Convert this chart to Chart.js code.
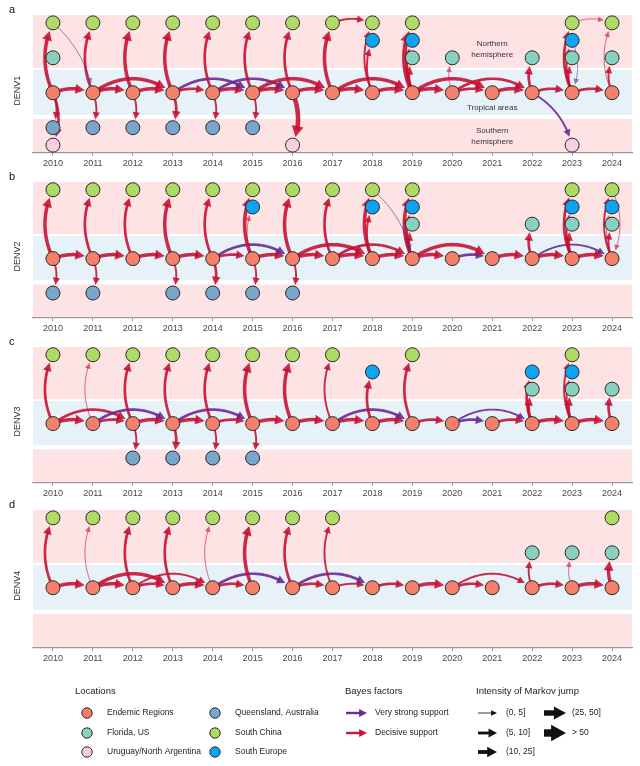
<!DOCTYPE html>
<html>
<head>
<meta charset="utf-8">
<script src="https://cdn.jsdelivr.net/npm/chart.js@4.4.1/dist/chart.umd.min.js"></script>
<style>
body{margin:0;background:#fff;width:640px;height:766px;position:relative;overflow:hidden;font-family:"Liberation Sans",Arial,sans-serif}
canvas{position:absolute;left:0}
</style>
</head>
<body>
<canvas id="pa" width="640" height="170" style="top:0px"></canvas>
<canvas id="pb" width="640" height="170" style="top:165px"></canvas>
<canvas id="pc" width="640" height="170" style="top:330px"></canvas>
<canvas id="pd" width="640" height="170" style="top:495px"></canvas>
<canvas id="legend" width="640" height="96" style="top:670px"></canvas>
<script>
// ---- data ----
const YEARS = [2010,2011,2012,2013,2014,2015,2016,2017,2018,2019,2020,2021,2022,2023,2024];
const LOC_KEYS = ['E','F','U','Q','C','S'];
const LOC_NAME = {E:'Endemic Regions', F:'Florida, US', U:'Uruguay/North Argentina',
                  Q:'Queensland, Australia', C:'South China', S:'South Europe'};
const BAYES = {V:'Very strong support', D:'Decisive support'};
const INTENSITY = ['(0, 5]','(5, 10]','(10, 25]','(25, 50]','> 50'];

// sampled locations per year
const DENV1_NODES = [
  ['E', YEARS],
  ['C', [2010,2011,2012,2013,2014,2015,2016,2017,2018,2019,2023,2024]],
  ['S', [2018,2019,2023]],
  ['F', [2010,2019,2020,2022,2023,2024]],
  ['Q', [2010,2011,2012,2013,2014,2015]],
  ['U', [2010,2016,2023]]
];
const DENV2_NODES = [
  ['E', YEARS],
  ['C', [2010,2011,2012,2013,2014,2015,2016,2017,2018,2019,2023,2024]],
  ['S', [2015,2018,2019,2023,2024]],
  ['F', [2019,2022,2023,2024]],
  ['Q', [2010,2011,2013,2014,2015,2016]]
];
const DENV3_NODES = [
  ['E', YEARS],
  ['C', [2010,2011,2012,2013,2014,2015,2016,2017,2019,2023]],
  ['S', [2018,2022,2023]],
  ['F', [2022,2023,2024]],
  ['Q', [2012,2013,2014,2015]]
];
const DENV4_NODES = [
  ['E', YEARS],
  ['C', [2010,2011,2012,2013,2014,2015,2016,2017,2024]],
  ['F', [2022,2023,2024]]
];

// jumps: [from, fromYear, to, toYear, bayes factor, intensity class 1..5]
const DENV1_JUMPS = [
  ['E',2010,'E',2011,'D',4],['E',2011,'E',2012,'D',4],['E',2012,'E',2013,'D',4],['E',2013,'E',2014,'D',3],
  ['E',2014,'E',2015,'D',4],['E',2015,'E',2016,'D',4],['E',2016,'E',2017,'D',4],['E',2017,'E',2018,'D',4],
  ['E',2018,'E',2019,'D',4],['E',2019,'E',2020,'D',4],['E',2020,'E',2021,'D',3],['E',2021,'E',2022,'D',4],
  ['E',2022,'E',2023,'D',3],['E',2023,'E',2024,'D',3],
  ['E',2011,'E',2013,'D',4],['E',2013,'E',2015,'V',3],['E',2014,'E',2016,'V',3],['E',2015,'E',2017,'D',4],
  ['E',2017,'E',2019,'D',4],['E',2019,'E',2021,'D',4],['E',2020,'E',2022,'D',3],
  ['E',2010,'C',2010,'D',4],['E',2011,'C',2011,'D',3],['E',2012,'C',2012,'D',4],['E',2013,'C',2013,'D',4],
  ['E',2014,'C',2014,'D',3],['E',2015,'C',2015,'D',3],['E',2016,'C',2016,'D',3],['E',2017,'C',2017,'D',4],
  ['E',2018,'C',2018,'D',2],['E',2018,'S',2018,'D',2],['E',2019,'C',2019,'D',5],['E',2019,'S',2019,'D',3],
  ['E',2019,'F',2019,'D',3],['E',2020,'F',2020,'D',1],['E',2022,'F',2022,'D',3],['E',2023,'C',2023,'D',3],
  ['E',2023,'S',2023,'D',2],['E',2023,'F',2023,'D',2],['E',2024,'C',2024,'D',1],['E',2024,'F',2024,'D',2],
  ['C',2017,'C',2018,'D',2],['C',2023,'C',2024,'D',1],['S',2023,'E',2023,'V',1],['C',2010,'E',2011,'V',1],
  ['E',2010,'Q',2010,'D',2],['E',2011,'Q',2011,'D',2],['E',2012,'Q',2012,'D',2],['E',2013,'Q',2013,'D',3],
  ['E',2014,'Q',2014,'D',2],['E',2015,'Q',2015,'D',2],
  ['E',2010,'U',2010,'D',3],['E',2016,'U',2016,'D',5],['E',2022,'U',2023,'V',2]
];
const DENV2_JUMPS = [
  ['E',2010,'E',2011,'D',4],['E',2011,'E',2012,'D',4],['E',2012,'E',2013,'D',4],['E',2013,'E',2014,'D',4],
  ['E',2014,'E',2015,'D',3],['E',2015,'E',2016,'D',4],['E',2016,'E',2017,'D',4],['E',2017,'E',2018,'D',4],
  ['E',2018,'E',2019,'D',4],['E',2019,'E',2020,'D',4],['E',2020,'E',2021,'V',3],['E',2021,'E',2022,'D',4],
  ['E',2022,'E',2023,'D',4],['E',2023,'E',2024,'D',4],
  ['E',2014,'E',2016,'V',3],['E',2016,'E',2018,'D',4],['E',2017,'E',2019,'D',3],['E',2019,'E',2021,'D',4],
  ['E',2022,'E',2024,'V',2],
  ['E',2010,'C',2010,'D',4],['E',2011,'C',2011,'D',3],['E',2012,'C',2012,'D',3],['E',2013,'C',2013,'D',4],
  ['E',2014,'C',2014,'D',3],['E',2015,'C',2015,'D',4],['E',2016,'C',2016,'D',4],['E',2017,'C',2017,'D',3],
  ['E',2018,'C',2018,'D',4],['E',2019,'C',2019,'D',4],['E',2023,'C',2023,'D',3],['E',2024,'C',2024,'D',2],
  ['E',2015,'S',2015,'D',1],['E',2018,'S',2018,'D',2],['E',2019,'S',2019,'D',3],['E',2023,'S',2023,'D',2],
  ['E',2024,'S',2024,'D',1],
  ['E',2019,'F',2019,'D',3],['E',2022,'F',2022,'D',3],['E',2023,'F',2023,'D',3],['E',2024,'F',2024,'D',2],
  ['C',2018,'E',2019,'V',1],['C',2024,'E',2024,'D',1],['F',2023,'C',2023,'V',1],
  ['E',2010,'Q',2010,'D',2],['E',2011,'Q',2011,'D',2],['E',2013,'Q',2013,'D',2],['E',2014,'Q',2014,'D',3],
  ['E',2015,'Q',2015,'D',2],['E',2016,'Q',2016,'D',2]
];
const DENV3_JUMPS = [
  ['E',2010,'E',2011,'D',4],['E',2011,'E',2012,'D',3],['E',2012,'E',2013,'D',4],['E',2013,'E',2014,'D',4],
  ['E',2014,'E',2015,'D',3],['E',2015,'E',2016,'D',4],['E',2016,'E',2017,'D',4],['E',2017,'E',2018,'D',4],
  ['E',2018,'E',2019,'D',4],['E',2019,'E',2020,'D',3],['E',2020,'E',2021,'V',3],['E',2021,'E',2022,'D',3],
  ['E',2022,'E',2023,'D',4],['E',2023,'E',2024,'D',4],
  ['E',2010,'E',2012,'D',3],['E',2011,'E',2013,'V',3],['E',2013,'E',2015,'V',3],['E',2017,'E',2019,'V',3],
  ['E',2020,'E',2022,'V',2],
  ['E',2010,'C',2010,'D',3],['E',2011,'C',2011,'D',1],['E',2012,'C',2012,'D',3],['E',2013,'C',2013,'D',3],
  ['E',2014,'C',2014,'D',3],['E',2015,'C',2015,'D',4],['E',2016,'C',2016,'D',4],['E',2017,'C',2017,'D',2],
  ['E',2019,'C',2019,'D',3],['E',2023,'C',2023,'D',2],
  ['E',2018,'S',2018,'D',3],['E',2022,'S',2022,'D',3],['E',2023,'S',2023,'D',2],
  ['E',2022,'F',2022,'D',3],['E',2023,'F',2023,'D',3],['E',2024,'F',2024,'D',3],
  ['E',2012,'Q',2012,'D',2],['E',2013,'Q',2013,'D',3],['E',2014,'Q',2014,'D',2],['E',2015,'Q',2015,'D',2]
];
const DENV4_JUMPS = [
  ['E',2010,'E',2011,'D',4],['E',2011,'E',2012,'D',4],['E',2012,'E',2013,'D',3],['E',2013,'E',2014,'D',4],
  ['E',2014,'E',2015,'D',3],['E',2016,'E',2017,'D',3],['E',2017,'E',2018,'D',2],['E',2018,'E',2019,'D',3],
  ['E',2019,'E',2020,'D',4],['E',2020,'E',2021,'D',3],['E',2022,'E',2023,'D',3],['E',2023,'E',2024,'D',4],
  ['E',2011,'E',2013,'D',4],['E',2012,'E',2014,'D',2],['E',2014,'E',2016,'V',3],['E',2016,'E',2018,'V',3],
  ['E',2020,'E',2022,'D',2],
  ['E',2010,'C',2010,'D',3],['E',2011,'C',2011,'D',1],['E',2012,'C',2012,'D',3],['E',2013,'C',2013,'D',3],
  ['E',2014,'C',2014,'D',1],['E',2015,'C',2015,'D',4],['E',2016,'C',2016,'D',3],['E',2017,'C',2017,'D',2],
  ['E',2022,'F',2022,'D',2],['E',2023,'F',2023,'D',1],['E',2024,'F',2024,'D',4]
];

// ---- styling / layout ----
const FONT = '"Liberation Sans", Arial, sans-serif';
Chart.defaults.font.family = FONT;
const ROW = {C:6, S:5, F:4, E:2, Q:0, U:-1};
const LOC_COLOR = {E:'#F47F6B', F:'#88D1C1', U:'#F9CEE3', Q:'#79A7CB', C:'#AEDB63', S:'#0AA4F3'};
const BF_COLOR = {D:'rgba(198,12,48,', V:'rgba(104,36,142,'};
const JUMP_WIDTH = [0, 1, 1.9, 2.7, 3.5, 4.6];
const BANDS = [[6.45, 3.42, '#FDE3E4'], [3.31, 0.74, '#E6F2F8'], [0.5, -1.45, '#FDE3E4']];
const NOTES_A = [['Northern', 2021, 4.79], ['hemisphere', 2021, 4.16], ['Tropical areas', 2021, 1.13],
                 ['Southern', 2021, -0.19], ['hemisphere', 2021, -0.82]];

function drawArrow(ctx, x0, y0, x1, y1, bend, lw, color, rEnd) {
  const dx = x1 - x0, dy = y1 - y0, len = Math.hypot(dx, dy);
  const nx = -dy / len, ny = dx / len;
  const cx = (x0 + x1) / 2 - nx * bend, cy = (y0 + y1) / 2 - ny * bend;
  const pt = t => ({x: (1-t)*(1-t)*x0 + 2*(1-t)*t*cx + t*t*x1,
                    y: (1-t)*(1-t)*y0 + 2*(1-t)*t*cy + t*t*y1});
  let tEnd = 1;
  while (tEnd > 0 && Math.hypot(pt(tEnd).x - x1, pt(tEnd).y - y1) < rEnd) tEnd -= 0.004;
  const tip = pt(tEnd);
  const headL = 4.5 + lw * 1.4, headW = 2 + lw * 0.85;
  let tBase = tEnd, tShaft = tEnd;
  while (tShaft > 0 && Math.hypot(pt(tShaft).x - tip.x, pt(tShaft).y - tip.y) < headL * 0.7) tShaft -= 0.004;
  while (tBase > 0 && Math.hypot(pt(tBase).x - tip.x, pt(tBase).y - tip.y) < headL) tBase -= 0.004;
  const b = pt(tBase);
  const dl = Math.hypot(tip.x - b.x, tip.y - b.y) || 1;
  const ux = (tip.x - b.x) / dl, uy = (tip.y - b.y) / dl;
  ctx.save();
  ctx.strokeStyle = color; ctx.fillStyle = color; ctx.lineWidth = lw;
  ctx.lineCap = 'butt'; ctx.lineJoin = 'round';
  ctx.beginPath();
  ctx.moveTo(x0, y0);
  for (let i = 1; i <= 40; i++) { const p = pt(tShaft * i / 40); ctx.lineTo(p.x, p.y); }
  ctx.stroke();
  const bx = tip.x - ux * headL, by = tip.y - uy * headL;
  ctx.beginPath();
  ctx.moveTo(tip.x, tip.y);
  ctx.lineTo(bx - uy * headW, by + ux * headW);
  ctx.lineTo(bx + uy * headW, by - ux * headW);
  ctx.closePath();
  ctx.fill();
  ctx.restore();
}

function bendFor(p0, p1) {
  const dx = Math.abs(p1.x - p0.x), dy = Math.abs(p1.y - p0.y);
  if (dx < 1) return dy > 60 ? 16 : dy > 45 ? 11 : 7;
  if (dy < 1) return dx > 60 ? 28 : 8;
  return 14;
}

function panel(id, letter, title, nodes, jumps, padTop, notes) {
  const datasets = nodes.map(([k, yrs]) => ({
    label: LOC_NAME[k],
    data: yrs.map(y => ({x: y, y: ROW[k]})),
    backgroundColor: LOC_COLOR[k], borderColor: '#2a2a2a', borderWidth: 1,
    pointRadius: 7, pointHoverRadius: 7
  }));
  const decor = {
    id: 'decor' + id,
    beforeDraw(chart) {
      const {ctx, chartArea: a, scales: {y}} = chart;
      ctx.save();
      BANDS.forEach(([t, b, c]) => {
        const yt = y.getPixelForValue(t), yb = y.getPixelForValue(b);
        ctx.fillStyle = c; ctx.fillRect(a.left, yt, a.right - a.left, yb - yt);
      });
      ctx.restore();
    },
    beforeDatasetsDraw(chart) {
      const {ctx, scales: {x, y}} = chart;
      jumps.forEach(([f, fy, t, ty, bf, cls]) => {
        const p0 = {x: x.getPixelForValue(fy), y: y.getPixelForValue(ROW[f])};
        const p1 = {x: x.getPixelForValue(ty), y: y.getPixelForValue(ROW[t])};
        const alpha = cls === 1 ? 0.6 : 0.88;
        drawArrow(ctx, p0.x, p0.y, p1.x, p1.y, bendFor(p0, p1), JUMP_WIDTH[cls], BF_COLOR[bf] + alpha + ')', 8.5);
      });
    },
    afterDraw(chart) {
      const {ctx, chartArea: a, scales: {x, y}} = chart;
      ctx.save();
      ctx.fillStyle = '#111';
      ctx.font = '11px ' + FONT;
      ctx.textAlign = 'left'; ctx.textBaseline = 'middle';
      ctx.fillText(letter, 9, a.top - 5);
      ctx.translate(18, y.getPixelForValue(ROW.E) - 2);
      ctx.rotate(-Math.PI / 2);
      ctx.textAlign = 'center';
      ctx.fillStyle = '#333';
      ctx.font = '9px ' + FONT;
      ctx.fillText(title, 0, 0);
      ctx.restore();
      if (notes) {
        ctx.save();
        ctx.fillStyle = '#333'; ctx.font = '8px ' + FONT;
        ctx.textAlign = 'center'; ctx.textBaseline = 'middle';
        notes.forEach(([s, nx, ny]) => ctx.fillText(s, x.getPixelForValue(nx), y.getPixelForValue(ny)));
        ctx.restore();
      }
    }
  };
  return new Chart(document.getElementById(id), {
    type: 'scatter',
    data: {datasets},
    options: {
      responsive: false, animation: false,
      layout: {padding: {left: 33, right: 5, top: padTop, bottom: 0}},
      plugins: {legend: {display: false}, tooltip: {enabled: false}},
      scales: {
        x: {
          type: 'linear', min: 2009.5, max: 2024.5,
          afterBuildTicks: s => { s.ticks = YEARS.map(v => ({value: v})); },
          afterFit: s => { s.height = 17; },
          ticks: {callback: v => String(v), color: '#4a4a4a', font: {size: 9}, padding: 2,
                  maxRotation: 0, autoSkip: false},
          grid: {drawOnChartArea: false, drawTicks: true, tickLength: 3, color: '#9a9a9a'},
          border: {display: true, color: '#9a9a9a', width: 1.2}
        },
        y: {display: false, min: -1.45, max: 6.45}
      }
    },
    plugins: [decor]
  });
}

panel('pa', 'a', 'DENV1', DENV1_NODES, DENV1_JUMPS, 15, NOTES_A);
panel('pb', 'b', 'DENV2', DENV2_NODES, DENV2_JUMPS, 17, null);
panel('pc', 'c', 'DENV3', DENV3_NODES, DENV3_JUMPS, 17, null);
panel('pd', 'd', 'DENV4', DENV4_NODES, DENV4_JUMPS, 15, null);

// ---- legend ----
(function () {
  const ctx = document.getElementById('legend').getContext('2d');
  ctx.textBaseline = 'middle';
  ctx.fillStyle = '#222';
  ctx.font = '9.5px ' + FONT;
  ctx.fillText('Locations', 75, 21);
  ctx.fillText('Bayes factors', 345, 21);
  ctx.fillText('Intensity of Markov jump', 476, 21);
  const rows = [43, 63, 82];
  ctx.font = '8.5px ' + FONT;
  LOC_KEYS.forEach((k, i) => {
    const cx = i < 3 ? 87 : 215, tx = i < 3 ? 107 : 235, cy = rows[i % 3];
    ctx.beginPath(); ctx.arc(cx, cy, 5.2, 0, Math.PI * 2);
    ctx.fillStyle = LOC_COLOR[k]; ctx.fill();
    ctx.strokeStyle = '#2a2a2a'; ctx.lineWidth = 1; ctx.stroke();
    ctx.fillStyle = '#222'; ctx.fillText(LOC_NAME[k], tx, cy);
  });
  ['V', 'D'].forEach((b, i) => {
    drawArrow(ctx, 346, rows[i], 367, rows[i], 0, 2.4, BF_COLOR[b] + '0.95)', 0);
    ctx.fillStyle = '#222'; ctx.fillText(BAYES[b], 375, rows[i]);
  });
  const legW = [1, 2.8, 3.8, 5.4, 7.4];
  INTENSITY.forEach((s, i) => {
    const col = i < 3 ? 0 : 1, cy = rows[i < 3 ? i : i - 3];
    const x0 = col ? 544 : 478, x1 = col ? 566 : 497, tx = col ? 572 : 506;
    drawArrow(ctx, x0, cy, x1, cy, 0, legW[i], '#111', 0);
    ctx.fillStyle = '#222'; ctx.fillText(s, tx, cy);
  });
})();
</script>
</body>
</html>
